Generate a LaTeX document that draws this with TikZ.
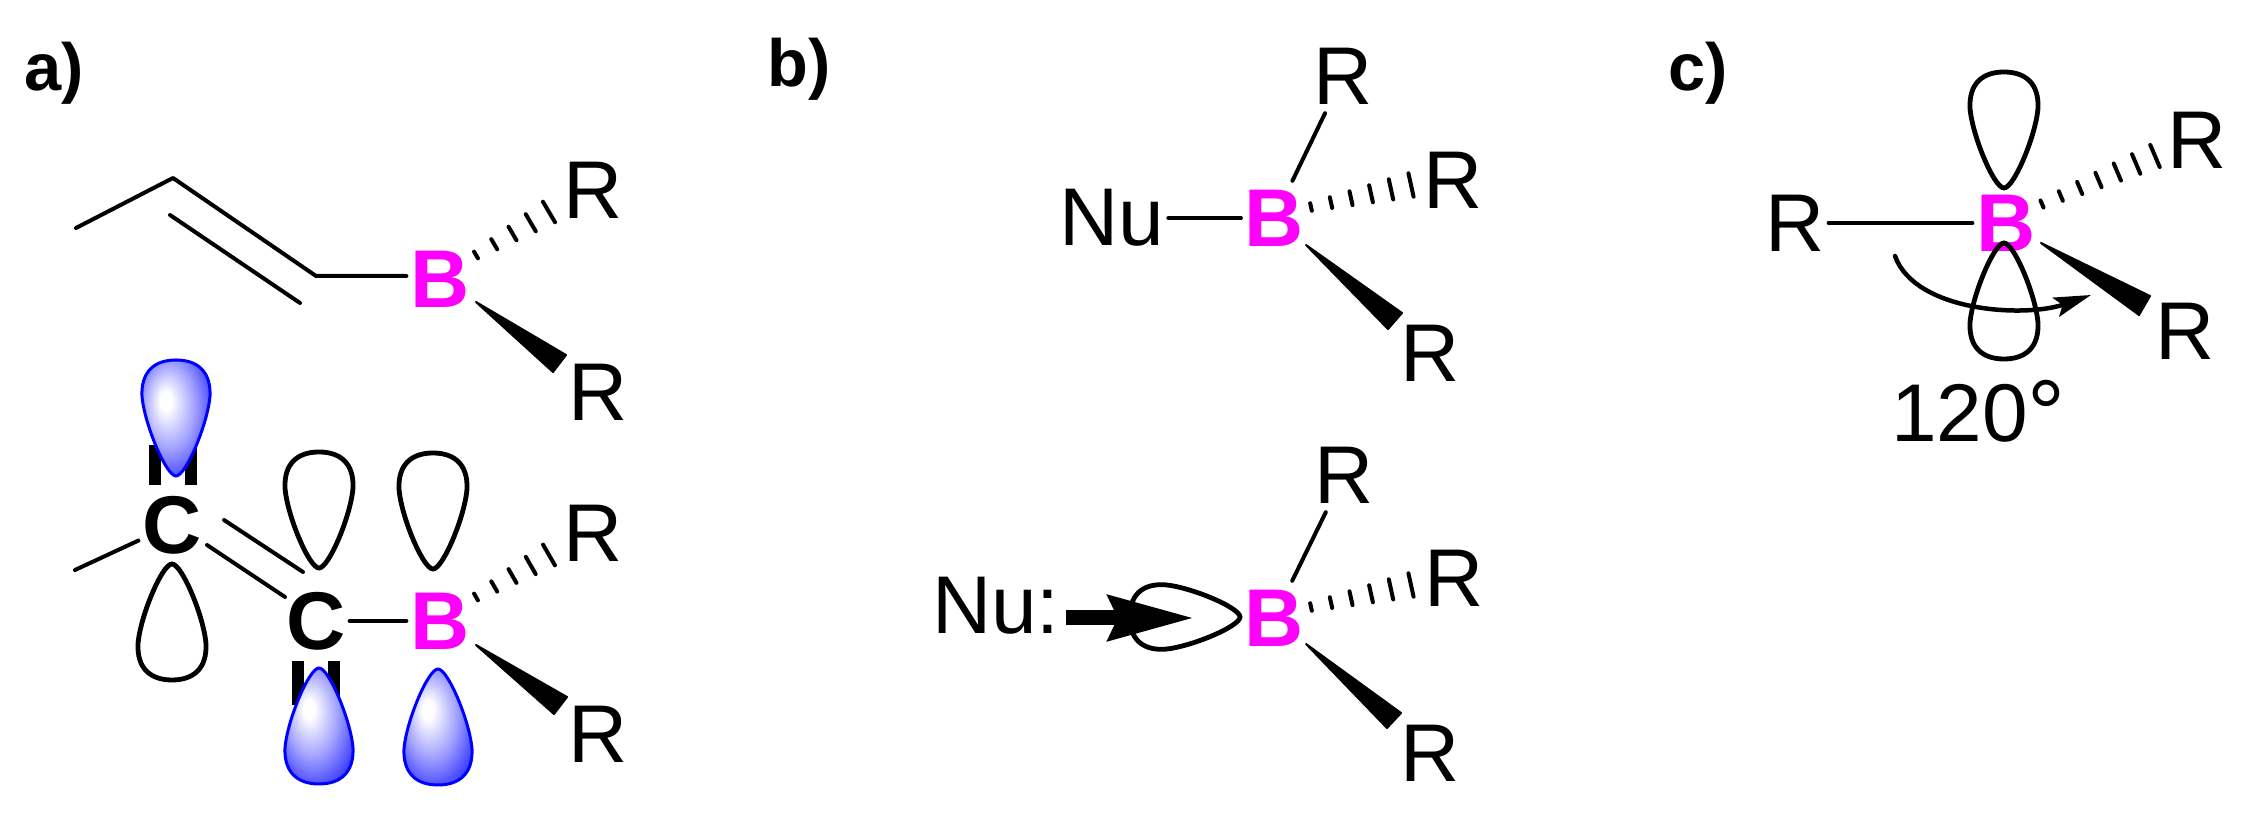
\documentclass[tikz,border=0pt]{standalone}
\usepackage{fontspec}
\setmainfont{Liberation Sans}
\usetikzlibrary{arrows.meta,calc}
\definecolor{boron}{RGB}{255,0,255}
\pgfdeclareradialshading{lobeball}{\pgfpoint{-8bp}{8bp}}{color(0bp)=(white); color(4bp)=(white); color(18bp)=(blue!36!white); color(30bp)=(blue!72!white); color(38bp)=(blue); color(50bp)=(blue)}
\newcommand{\lobepath}{(0,0) .. controls (-10,0) and (-32,53) .. (-34,80) .. controls (-35,104) and (-22,116) .. (0,116) .. controls (22,116) and (35,104) .. (34,80) .. controls (32,53) and (10,0) .. (0,0) -- cycle}
% a row of strokes that widen from #1 to #2
\newcommand{\hashbond}[3]{%
  \coordinate (hx) at ($(#1)!1.5!(#2)$);
  \foreach \i in {0,...,#3}{
    \pgfmathsetmacro{\t}{\i/#3}
    \pgfmathsetmacro{\hl}{1.1+\t*2.3}
    \coordinate (hs) at ($(#1)!\t!(#2)$);
    \draw[hashline] ($(hs)!\hl pt!90:(hx)$) -- ($(hs)!\hl pt!-90:(hx)$);
  }}
\tikzset{
  lbl/.style={inner xsep=0.04cm,inner ysep=0.09cm,outer sep=0pt,font=\fontsize{23.3}{28}\selectfont},
  atomb/.style={lbl,text=boron,font=\fontsize{23.3}{28}\selectfont\bfseries},
  atomc/.style={lbl,font=\fontsize{23.3}{28}\selectfont\bfseries},
  tag/.style={anchor=base west,inner sep=0pt,font=\fontsize{19}{23}\selectfont\bfseries},
  bond/.style={line width=0.04cm,line cap=round},
  hashline/.style={line width=0.04cm,line cap=round},
  wedge/.style={fill=black,draw=black,line width=0.02cm,line join=round},
  lobeopen/.style={draw=black,line width=0.048cm},
  lobefull/.style={shading=lobeball,draw=blue,line width=0.03cm},
}
\begin{document}
\begin{tikzpicture}[x=0.01cm,y=-0.01cm,>={Stealth[length=0.37cm,width=0.2cm,inset=0.07cm]}]
\useasboundingbox (0,0) rectangle (2244,813);
\node[tag] (taga) at (24,91) {a)};
\node[tag] (tagb) at (767,87) {b)};
\node[tag] (tagc) at (1668,91) {c)};

% a) top
\node[atomb] (ba) at (440,279) {B};
\node[lbl] (ra1) at (593,190) {R};
\node[lbl] (ra2) at (598,392) {R};
\coordinate (a1) at (76,228);
\coordinate (a2) at (173,178);
\coordinate (a3) at (316,276);
\coordinate (a4) at (170,215);
\coordinate (a5) at (300,303);
\draw[bond,line join=round] (a1) -- (a2) -- (a3) -- (a3 -| ba.west);
\draw[bond] (a4) -- (a5);
\coordinate (ah0) at (476,255);
\coordinate (ah1) at (549,212);
\hashbond{ah0}{ah1}{4}
\coordinate (aw0) at (476,302);
\coordinate (aw1) at (566,355);
\coordinate (aw2) at (553,372);
\filldraw[wedge] (aw0) -- (aw1) -- (aw2) -- cycle;

% a) orbitals
\node[atomc] (ca) at (172,525) {C};
\node[atomc] (cb) at (316,621) {C};
\node[atomb] (bb) at (440,621) {B};
\node[lbl] (rb1) at (593,533) {R};
\node[lbl] (rb2) at (598,734) {R};
\coordinate (b1) at (75,570);
\coordinate (b2) at (224,520);
\coordinate (b3) at (303,572);
\coordinate (b4) at (207,545);
\coordinate (b5) at (285,597);
\draw[bond] (b1) -- (ca);
\draw[bond] (b2) -- (b3);
\draw[bond] (b4) -- (b5);
\draw[bond] (cb) -- (bb);
\fill (149,445) rectangle (161,485);
\fill (185,445) rectangle (197,485);
\fill (292,661) rectangle (304,705);
\fill (328,661) rectangle (340,705);
\shade[lobefull,shift={(176,476)},rotate=180] \lobepath;
\shade[lobefull,shift={(319,668)}] \lobepath;
\shade[lobefull,shift={(438,669)}] \lobepath;
\draw[lobeopen,shift={(172,564)}] \lobepath;
\draw[lobeopen,shift={(319,568)},rotate=180] \lobepath;
\draw[lobeopen,shift={(433,569)},rotate=180] \lobepath;
\coordinate (bh0) at (476,597);
\coordinate (bh1) at (549,555);
\hashbond{bh0}{bh1}{4}
\coordinate (bw0) at (476,645);
\coordinate (bw1) at (567,697);
\coordinate (bw2) at (554,714);
\filldraw[wedge] (bw0) -- (bw1) -- (bw2) -- cycle;

% b) top
\node[lbl] (nua) at (1112,218) {Nu};
\node[atomb] (bc) at (1274.5,218) {B};
\node[lbl] (rc1) at (1343,76) {R};
\node[lbl] (rc2) at (1453,180) {R};
\node[lbl] (rc3) at (1430,353) {R};
\draw[bond] (nua) -- (bc);
\draw[bond] (bc) -- (rc1);
\coordinate (ch0) at (1311,207);
\coordinate (ch1) at (1411,185);
\hashbond{ch0}{ch1}{5}
\coordinate (cw0) at (1306,245);
\coordinate (cw1) at (1402,313);
\coordinate (cw2) at (1388,329);
\filldraw[wedge] (cw0) -- (cw1) -- (cw2) -- cycle;

% b) bottom
\node[lbl] (nub) at (996,606) {Nu:};
\node[atomb] (bd) at (1274,618) {B};
\node[lbl] (rd1) at (1344,475) {R};
\node[lbl] (rd2) at (1454,578) {R};
\node[lbl] (rd3) at (1430,753) {R};
\draw[bond] (bd) -- (rd1);
\draw[lobeopen,shift={(1240,617)},rotate=-90,scale=0.95] \lobepath;
\coordinate (n0) at (1066,618);
\coordinate (n1) at (1194,618);
\draw[line width=0.15cm,-{Stealth[length=0.85cm,width=0.44cm,inset=0.09cm]}] (n0) -- (n1);
\coordinate (dh0) at (1311,607);
\coordinate (dh1) at (1411,585);
\hashbond{dh0}{dh1}{5}
\coordinate (dw0) at (1306,644);
\coordinate (dw1) at (1401,713);
\coordinate (dw2) at (1387,728);
\filldraw[wedge] (dw0) -- (dw1) -- (dw2) -- cycle;

% c)
\node[atomb] (be) at (2006,223) {B};
\node[lbl] (re1) at (1795,223) {R};
\node[lbl] (re2) at (2197,140) {R};
\node[lbl] (re3) at (2185,331) {R};
\node[lbl,anchor=base west,inner sep=0pt] (ang) at (1891,442) {120{\fontsize{27}{30}\selectfont\raisebox{-0.05cm}{°}}};
\draw[bond] (re1) -- (be);
\draw[lobeopen,shift={(2004,188)},rotate=180] \lobepath;
\draw[lobeopen,shift={(2004,243)}] \lobepath;
\coordinate (eh0) at (2042,204);
\coordinate (eh1) at (2155,156);
\hashbond{eh0}{eh1}{6}
\coordinate (ew0) at (2041,243);
\coordinate (ew1) at (2150,296);
\coordinate (ew2) at (2139,315);
\filldraw[wedge] (ew0) -- (ew1) -- (ew2) -- cycle;
\coordinate (e0) at (1895,256);
\coordinate (e1) at (2091,295);
\draw[bond,line width=0.045cm,->] (e0) .. controls (1915,312) and (2025,318) .. (e1);
\end{tikzpicture}
\end{document}
